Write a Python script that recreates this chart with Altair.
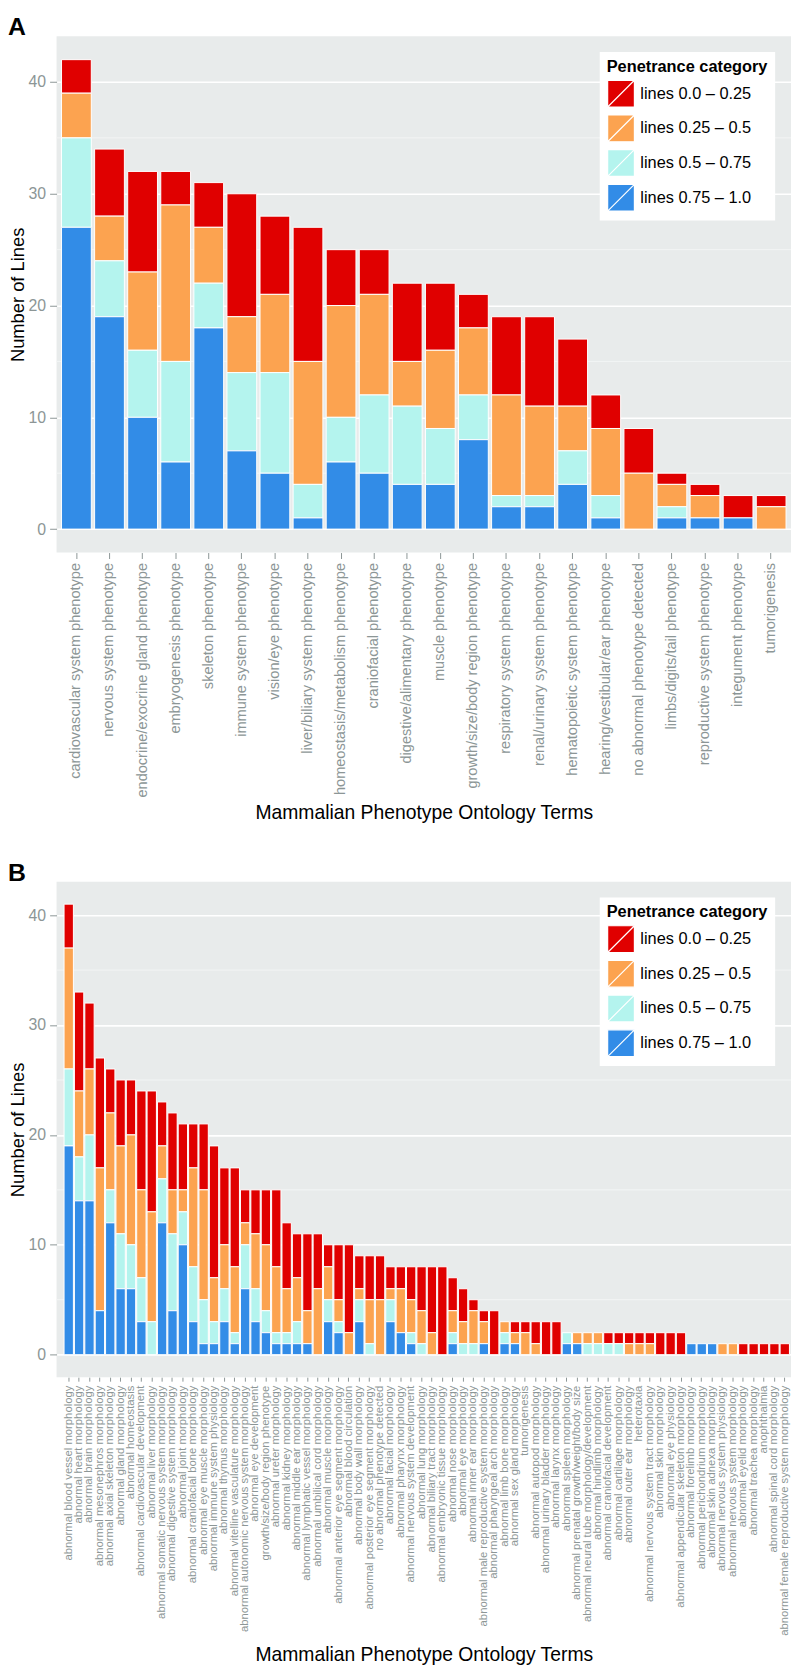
import altair as alt
import pandas as pd

FONT = "Liberation Sans"

pen_labels = ["lines 0.0 – 0.25", "lines 0.25 – 0.5", "lines 0.5 – 0.75", "lines 0.75 – 1.0"]
pen_colors = ["#E00000", "#FCA350", "#B4F4EE", "#328CE7"]

# ---------------- Panel A ----------------
terms_a = [
    "cardiovascular system phenotype", "nervous system phenotype",
    "endocrine/exocrine gland phenotype", "embryogenesis phenotype",
    "skeleton phenotype", "immune system phenotype", "vision/eye phenotype",
    "liver/biliary system phenotype", "homeostasis/metabolism phenotype",
    "craniofacial phenotype", "digestive/alimentary phenotype", "muscle phenotype",
    "growth/size/body region phenotype", "respiratory system phenotype",
    "renal/urinary system phenotype", "hematopoietic system phenotype",
    "hearing/vestibular/ear phenotype", "no abnormal phenotype detected",
    "limbs/digits/tail phenotype", "reproductive system phenotype",
    "integument phenotype", "tumorigenesis",
]
a_red    = [3, 6, 9, 3, 4, 11, 7, 12, 5, 4, 7, 6, 3, 7, 8, 6, 3, 4, 1, 1, 2, 1]
a_orange = [4, 4, 7, 14, 5, 5, 7, 11, 10, 9, 4, 7, 6, 9, 8, 4, 6, 5, 2, 2, 0, 2]
a_cyan   = [8, 5, 6, 9, 4, 7, 9, 3, 4, 7, 7, 5, 4, 1, 1, 3, 2, 0, 1, 0, 0, 0]
a_blue   = [27, 19, 10, 6, 18, 7, 5, 1, 6, 5, 4, 4, 8, 2, 2, 4, 1, 0, 1, 1, 1, 0]

# ---------------- Panel B ----------------
terms_b = [
    "abnormal blood vessel morphology", "abnormal heart morphology",
    "abnormal brain morphology", "abnormal mesonephros morphology",
    "abnormal axial skeleton morphology", "abnormal gland morphology",
    "abnormal homeostasis", "abnormal cardiovascular development",
    "abnormal liver morphology", "abnormal somatic nervous system morphology",
    "abnormal digestive system morphology", "abnormal joint morphology",
    "abnormal craniofacial bone morphology", "abnormal eye muscle morphology",
    "abnormal immune system physiology", "abnormal thymus morphology",
    "abnormal vitelline vasculature morphology",
    "abnormal autonomic nervous system morphology", "abnormal eye development",
    "growth/size/body region phenotype", "abnormal ureter morphology",
    "abnormal kidney morphology", "abnormal middle ear morphology",
    "abnormal lymphatic vessel morphology", "abnormal umbilical cord morphology",
    "abnormal muscle morphology", "abnormal anterior eye segment morphology",
    "abnormal blood circulation", "abnormal body wall morphology",
    "abnormal posterior eye segment morphology", "no abnormal phenotype detected",
    "abnormal facial morphology", "abnormal pharynx morphology",
    "abnormal nervous system development", "abnormal lung morphology",
    "abnormal biliary tract morphology", "abnormal embryonic tissue morphology",
    "abnormal nose morphology", "abnormal eye morphology",
    "abnormal inner ear morphology", "abnormal male reproductive system morphology",
    "abnormal pharyngeal arch morphology", "abnormal limb bone morphology",
    "abnormal sex gland morphology", "tumorigenesis", "abnormal autopod morphology",
    "abnormal urinary bladder morphology", "abnormal larynx morphology",
    "abnormal spleen morphology", "abnormal prenatal growth/weight/body size",
    "abnormal neural tube morphology/development", "abnormal hindlimb morphology",
    "abnormal craniofacial development", "abnormal cartilage morphology",
    "abnormal outer ear morphology", "heterotaxia",
    "abnormal nervous system tract morphology", "abnormal skin morphology",
    "abnormal eye physiology", "abnormal appendicular skeleton morphology",
    "abnormal forelimb morphology", "abnormal perichondrium morphology",
    "abnormal skin adnexa morphology", "abnormal nervous system physiology",
    "abnormal nervous system morphology", "abnormal eyelid morphology",
    "abnormal trachea morphology", "anophthalmia", "abnormal spinal cord morphology",
    "abnormal female reproductive system morphology",
]
b_red    = [4, 9, 6, 10, 4, 6, 5, 9, 11, 4, 7, 6, 4, 6, 12, 7, 9, 3, 4, 5, 7, 6, 4, 7, 5,
            2, 5, 8, 3, 4, 4, 2, 2, 3, 4, 6, 8, 3, 3, 1, 1, 4, 0, 1, 1, 2, 3, 3, 0, 0,
            0, 0, 1, 1, 1, 1, 1, 2, 2, 2, 0, 0, 0, 0, 0, 1, 1, 1, 1, 1]
b_orange = [11, 6, 6, 13, 7, 8, 10, 8, 10, 3, 4, 2, 9, 10, 4, 4, 6, 2, 5, 6, 6, 4, 4, 3, 6,
            3, 2, 2, 1, 4, 5, 1, 4, 3, 3, 2, 0, 2, 2, 3, 2, 0, 1, 1, 2, 1, 0, 0, 0, 1,
            1, 1, 0, 0, 1, 1, 1, 0, 0, 0, 0, 0, 0, 1, 1, 0, 0, 0, 0, 0]
b_cyan   = [7, 4, 6, 0, 3, 5, 4, 4, 3, 4, 7, 3, 5, 4, 2, 3, 1, 4, 3, 2, 1, 1, 2, 0, 0,
            2, 1, 0, 2, 1, 0, 2, 0, 1, 1, 0, 0, 1, 1, 1, 0, 0, 1, 0, 0, 0, 0, 0, 1, 0,
            1, 1, 1, 1, 0, 0, 0, 0, 0, 0, 0, 0, 0, 0, 0, 0, 0, 0, 0, 0]
b_blue   = [19, 14, 14, 4, 12, 6, 6, 3, 0, 12, 4, 10, 3, 1, 1, 3, 1, 6, 3, 2, 1, 1, 1, 1, 0,
            3, 2, 0, 3, 0, 0, 3, 2, 1, 0, 0, 0, 1, 0, 0, 1, 0, 1, 1, 0, 0, 0, 0, 1, 1,
            0, 0, 0, 0, 0, 0, 0, 0, 0, 0, 1, 1, 1, 0, 0, 0, 0, 0, 0, 0]

grid_major = [0, 10, 20, 30, 40]
grid_minor = [5, 15, 25, 35]
panel_letters = ["A", "B"]


def build(terms, series):
    rows = []
    for i, t in enumerate(terms):
        for j, s in enumerate(series):
            if s[i] > 0:
                rows.append({"term": t, "cat": pen_labels[j], "count": s[i], "ord": 3 - j})
    return pd.DataFrame(rows)


df_a = build(terms_a, [a_red, a_orange, a_cyan, a_blue])
df_b = build(terms_b, [b_red, b_orange, b_cyan, b_blue])

LEG_SYMBOL = "M-1,-1H1V1H-1Z M-1,1L1,-1"
GRAY = "#8C9696"


def panel(df, terms, letter, width, height, ydom, xfs, xtick, xtp, xscale):
    legend = alt.Legend(
        title="Penetrance category", orient="top-right", offset=16,
        fillColor="white", padding=7, titleFontSize=16.5, titleFont=FONT,
        titleFontWeight="bold", titleColor="black", labelFontSize=16.5,
        labelFont=FONT, labelColor="black", symbolType=LEG_SYMBOL, symbolSize=729,
        symbolStrokeColor="white", symbolStrokeWidth=1.2, symbolOpacity=1,
        rowPadding=2, labelOffset=5, titlePadding=4,
    )
    yscale = alt.Scale(domain=ydom, nice=False, zero=False)
    minor = alt.Chart(pd.DataFrame({"v": grid_minor})).mark_rule(
        color="#F4F6F6", strokeWidth=0.9
    ).encode(y=alt.Y("v:Q", scale=yscale))
    bars = alt.Chart(df).mark_bar(stroke="white", strokeWidth=1).encode(
        x=alt.X(
            "term:N", sort=terms, scale=xscale,
            axis=alt.Axis(
                title="Mammalian Phenotype Ontology Terms", titleFontSize=19.5,
                titleFont=FONT, titleFontWeight="normal", titleColor="black",
                titlePadding=xtp, labelAngle=270, labelFontSize=xfs, labelFont=FONT,
                labelColor=GRAY, labelLimit=400, labelPadding=4, tickSize=xtick,
                tickColor=GRAY, domain=False, grid=False, labelOverlap=False,
                maxExtent=400,
            ),
        ),
        y=alt.Y(
            "count:Q", stack="zero", scale=yscale,
            axis=alt.Axis(
                values=grid_major, title="Number of Lines", titleFontSize=18.5,
                titleFont=FONT, titleFontWeight="normal", titleColor="black",
                titlePadding=1, labelFontSize=16, labelFont=FONT, labelColor=GRAY,
                tickSize=7, tickColor=GRAY, labelPadding=4, domain=False,
                grid=True, gridColor="white", gridWidth=1.6,
            ),
        ),
        color=alt.Color(
            "cat:N", scale=alt.Scale(domain=pen_labels, range=pen_colors), legend=legend
        ),
        order=alt.Order("ord:Q", sort="ascending"),
    )
    tag = alt.Chart(pd.DataFrame({"t": [letter]})).mark_text(
        align="left", baseline="alphabetic", fontSize=25, fontWeight="bold",
        font=FONT, color="black",
    ).encode(text="t:N", x=alt.value(-49), y=alt.value(-1))
    return alt.layer(minor, bars, tag).properties(width=width, height=height)


chart_a = panel(
    df_a, terms_a, panel_letters[0], 741, 521, [-2.1, 44.1], 14.7, 6, 7,
    alt.Scale(paddingInner=0.1, paddingOuter=0.15),
)
chart_b = panel(
    df_b, terms_b, panel_letters[1], 741, 500, [-2.05, 43.05], 11.4, 4, 10,
    alt.Scale(paddingInner=0.1, paddingOuter=0.436, align=0.828),
)

chart = alt.vconcat(chart_a, chart_b, spacing=38).resolve_scale(
    x="independent", y="independent", color="independent"
).resolve_legend(color="independent").properties(
    padding={"left": 0, "top": 0, "right": 0, "bottom": 0}
).configure_view(fill="#E8EBEB", stroke=None)

chart.save("out.html", embed_options={"renderer": "svg", "actions": False})
